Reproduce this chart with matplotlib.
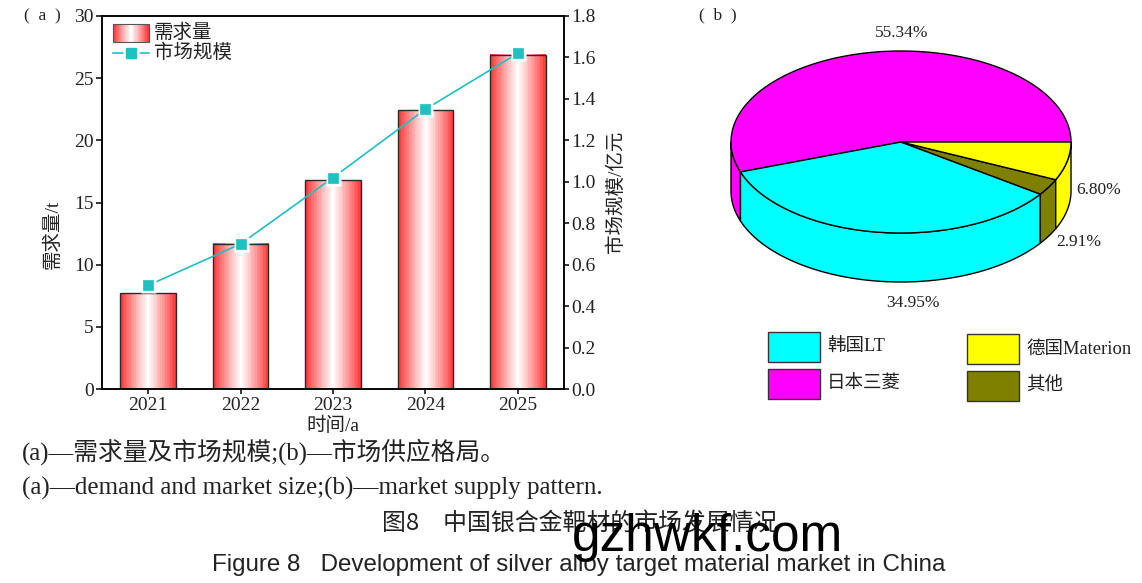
import numpy as np
import matplotlib
matplotlib.use('Agg')
import matplotlib.pyplot as plt
from matplotlib.colors import LinearSegmentedColormap
from matplotlib.patches import Polygon, Rectangle

# ---------------- data ----------------
years = ['2021', '2022', '2023', '2024', '2025']
demand_t = [7.7, 11.7, 16.8, 22.4, 26.9]          # 需求量 / t
market_size = [0.50, 0.70, 1.02, 1.35, 1.62]      # 市场规模 / 亿元

companies = ['韩国LT', '日本三菱', '德国Materion', '其他']
shares = [34.95, 55.34, 6.80, 2.91]               # %
pie_colors = ['#00FFFF', '#FF00FF', '#FFFF00', '#808000']
pie_order = [1, 0, 3, 2]                          # drawing order, counter-clockwise from 0°

# ---------------- style ----------------
SERIF = ['Liberation Serif', 'Noto Sans CJK SC']
plt.rcParams['font.family'] = SERIF
TEAL = '#1EC0C0'
TXT = '#222222'

W, H = 1142, 583
fig = plt.figure(figsize=(W / 100, H / 100), dpi=100)


def px_rect(l, t, r, b):
    return [l / W, 1 - b / H, (r - l) / W, (b - t) / H]


# ---------------- (a) bar + line ----------------
ax = fig.add_axes(px_rect(102, 16, 564, 389))
x = np.arange(len(years))
bars = ax.bar(x, demand_t, width=0.6, facecolor='none', edgecolor='#2a2a2a',
              linewidth=1.0, zorder=3)
u = np.linspace(-1, 1, 240)
prof = np.abs(u) ** 1.1
prof = np.round(prof * 16) / 16
grad = prof[None, :]
cmap = LinearSegmentedColormap.from_list('rw', ['#FFFFFF', '#FF3535'])
for b in bars:
    ax.imshow(grad, extent=(b.get_x(), b.get_x() + b.get_width(), 0, b.get_height()),
              cmap=cmap, vmin=0, vmax=1, aspect='auto', zorder=2,
              interpolation='nearest')
ax.set_xlim(-0.5, 4.5)
ax.set_ylim(0, 30)
ax.set_xticks(x, years)
ax.set_yticks(range(0, 31, 5))
for s in ax.spines.values():
    s.set_linewidth(1.1)
ax.tick_params(axis='both', direction='out', length=4.5, width=1.1,
               labelsize=14, pad=1.5, colors='black', labelcolor=TXT)
ax.tick_params(axis='x', length=3.5, pad=2.5)
ax.set_ylabel('需求量/t', fontsize=14, color=TXT)
ax.yaxis.set_label_coords(-0.0866, 0.416)
ax.set_xlabel('时间/a', fontsize=14, color=TXT)
ax.xaxis.set_label_coords(0.5, -0.074)

ax2 = ax.twinx()
ax2.set_ylim(0, 1.8)
ax2.set_yticks(np.arange(0, 1.81, 0.2), [f'{v:.1f}' for v in np.arange(0, 1.81, 0.2)])
ax2.tick_params(axis='y', direction='out', length=3.5, width=1.1, labelsize=14,
                pad=1.5, labelcolor=TXT)
for s in ax2.spines.values():
    s.set_linewidth(1.1)
ax2.plot(x, market_size, color=TEAL, lw=1.2, zorder=3)
ax2.plot(x, market_size, ls='none', marker='s', ms=10.8, mfc='white', mec='none', zorder=4)
ax2.plot(x, market_size, ls='none', marker='s', ms=7.8, mfc=TEAL, mec=TEAL,
         mew=0.5, zorder=5)
ax2.set_ylabel('市场规模/亿元', fontsize=14, color=TXT)
ax2.yaxis.set_label_coords(1.093, 0.528)

# ---------------- overlay in pixel coordinates ----------------
ov = fig.add_axes([0, 0, 1, 1])
ov.axis('off')

# legend of (a)
ov.imshow(grad, extent=(113, 149, 42, 24), cmap=cmap, vmin=0, vmax=1,
          aspect='auto', interpolation='nearest', zorder=2)
ov.add_patch(Rectangle((113, 24), 36, 18, fill=False, ec='#555555', lw=0.8, zorder=3))
ov.plot([113, 149], [53, 53], color=TEAL, lw=1.2, zorder=3)
ov.plot([131], [53], ls='none', marker='s', ms=11, mfc='white', mec='none', zorder=4)
ov.plot([131], [53], ls='none', marker='s', ms=7.8, mfc=TEAL, mec=TEAL, zorder=5)
ov.text(154, 33, '需求量', fontsize=14, va='center', ha='left', color=TXT)
ov.text(154, 53, '市场规模', fontsize=14, va='center', ha='left', color=TXT)

ov.text(24, 16, '(  a  )', fontsize=12.5, va='center', ha='left', color=TXT)
ov.text(699, 15, '(  b  )', fontsize=12.5, va='center', ha='left', color=TXT)

# ---------------- (b) 3D pie ----------------
cx, cy, ra, rb, depth = 901, 142, 170, 91, 49


def arc(t1, t2, n=200):
    t = np.linspace(t1, t2, n)
    return np.column_stack([cx + ra * np.cos(t), cy - rb * np.sin(t)])


label_xy = {0: (913, 303), 1: (902, 33), 2: (1099, 190), 3: (1079, 242)}

cum = 0.0
slices = []
for i in pie_order:
    t1 = cum
    t2 = cum + shares[i] / 100 * 2 * np.pi
    slices.append((i, t1, t2))
    cum = t2

# side walls (front half)
for i, t1, t2 in slices:
    s1, s2 = max(t1, np.pi), min(t2, 2 * np.pi)
    if s2 > s1:
        top = arc(s1, s2)
        bot = top + np.array([0, depth])
        ov.add_patch(Polygon(np.vstack([top, bot[::-1]]), closed=True,
                             fc=pie_colors[i], ec='black', lw=1.0, zorder=5))
# top faces
for i, t1, t2 in slices:
    pts = np.vstack([[cx, cy], arc(t1, t2)])
    ov.add_patch(Polygon(pts, closed=True, fc=pie_colors[i], ec='black',
                         lw=1.0, zorder=6, joinstyle='round'))
    lx, ly = label_xy[i]
    ov.text(lx, ly, f'{shares[i]:.2f}%', fontsize=12.5, ha='center', va='center',
            color=TXT)

# legend of (b)
legend_order = [0, 1, 2, 3]
for k, i in enumerate(legend_order):
    col, row = divmod(k, 2)
    bx = 768 + col * 199
    by = 332 + row * 37 + col * 2
    ov.add_patch(Rectangle((bx, by), 52, 30, fc=pie_colors[i], ec='#333333',
                           lw=1.0, zorder=5))
    ov.text(bx + 59, by + 15, companies[i], fontsize=13.3, va='center', ha='left',
            color=TXT)

# ---------------- captions ----------------
ov.text(22, 452, '(a)—需求量及市场规模;(b)—市场供应格局。', fontsize=17.8,
        va='center', ha='left', color=TXT)
ov.text(22, 488, '(a)—demand and market size;(b)—market supply pattern.',
        fontsize=18, va='center', ha='left', color=TXT)
ov.text(580, 524, '图8　中国银合金靶材的市场发展情况', fontsize=17.2,
        family=['Noto Sans CJK SC', 'DejaVu Sans'], va='center', ha='center',
        color=TXT)
ov.text(579, 565, 'Figure 8   Development of silver alloy target material market in China',
        fontsize=17.4, family=['Liberation Sans'], va='center', ha='center', color=TXT)
ov.text(708, 538, 'gzhwkf.com', fontsize=37, family=['Liberation Sans'],
        va='center', ha='center', color='black', zorder=10)

ov.set_xlim(0, W)
ov.set_ylim(H, 0)

fig.savefig('out.png', dpi=100)
